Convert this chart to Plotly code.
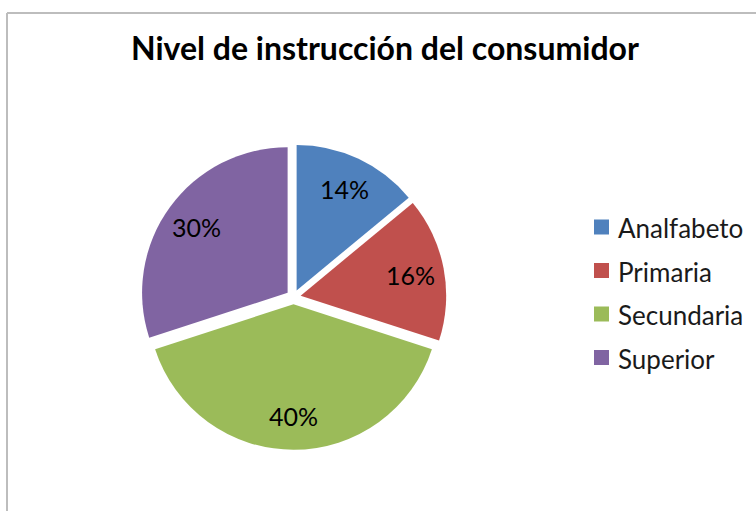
import math
import plotly.graph_objects as go

# Consumer education level shares
categories = ["Analfabeto", "Primaria", "Secundaria", "Superior"]
shares = [14, 16, 40, 30]
colors = ["#4F81BD", "#C0504D", "#9BBB59", "#8064A2"]

W, H = 756, 511
FONT = "Lato"
PULL = 0.05

# Pie placement (pixels): centre and outer extent including pull
cx, cy, half = 293.5, 297.0, 152.8
radius = half / (1 + PULL)

fig = go.Figure()
fig.add_trace(go.Pie(
    labels=categories,
    values=shares,
    marker=dict(colors=colors, line=dict(width=0)),
    sort=False,
    direction="clockwise",
    rotation=0,
    pull=[PULL] * len(shares),
    textinfo="none",
    domain=dict(x=[(cx - half) / W, (cx + half) / W],
                y=[(H - cy - half) / H, (H - cy + half) / H]),
    showlegend=False,
    hoverinfo="label+percent",
))

annotations = []
shapes = []

# Percentage labels placed along each slice's bisector
total = sum(shares)
start = 0.0
for v in shares:
    frac = v / total
    mid = (start + frac / 2) * 2 * math.pi  # clockwise from 12 o'clock
    dist = radius * 0.77 + radius * PULL
    lx = cx + dist * math.sin(mid)
    ly = cy - dist * math.cos(mid)
    annotations.append(dict(
        text=f"{round(frac * 100)}%", xref="paper", yref="paper",
        x=lx / W, y=(H - ly) / H, xanchor="center", yanchor="middle",
        showarrow=False, font=dict(family=FONT, size=25, color="#000000"),
    ))
    start += frac

# Legend drawn as coloured squares with labels
x0_px, y0_px, step_px, sq = 594, 227, 43.5, 15
for i, (name, col) in enumerate(zip(categories, colors)):
    yc = y0_px + i * step_px
    shapes.append(dict(
        type="rect", xref="paper", yref="paper",
        x0=x0_px / W, x1=(x0_px + sq) / W,
        y0=(H - yc - sq / 2) / H, y1=(H - yc + sq / 2) / H,
        fillcolor=col, line=dict(width=0),
    ))
    annotations.append(dict(
        text=name, xref="paper", yref="paper",
        x=616 / W, y=(H - yc - 1) / H, xanchor="left", yanchor="middle",
        showarrow=False, font=dict(family=FONT, size=26, color="#1a1a1a"),
    ))

# Frame lines along top and left edges
shapes.append(dict(type="line", xref="paper", yref="paper",
                   x0=7 / W, x1=1, y0=(H - 13) / H, y1=(H - 13) / H,
                   line=dict(color="#BDBDBD", width=2)))
shapes.append(dict(type="line", xref="paper", yref="paper",
                   x0=7 / W, x1=7 / W, y0=0, y1=(H - 13) / H,
                   line=dict(color="#BDBDBD", width=2)))

annotations.append(dict(
    text="<b>Nivel de instrucción del consumidor</b>",
    xref="paper", yref="paper", x=385 / W, y=(H - 47) / H,
    xanchor="center", yanchor="middle", showarrow=False,
    font=dict(family=FONT, size=32, color="#000000"),
))

fig.update_layout(
    width=W, height=H,
    margin=dict(l=0, r=0, t=0, b=0),
    paper_bgcolor="white",
    plot_bgcolor="white",
    shapes=shapes,
    annotations=annotations,
)

fig.write_html("out.html")
